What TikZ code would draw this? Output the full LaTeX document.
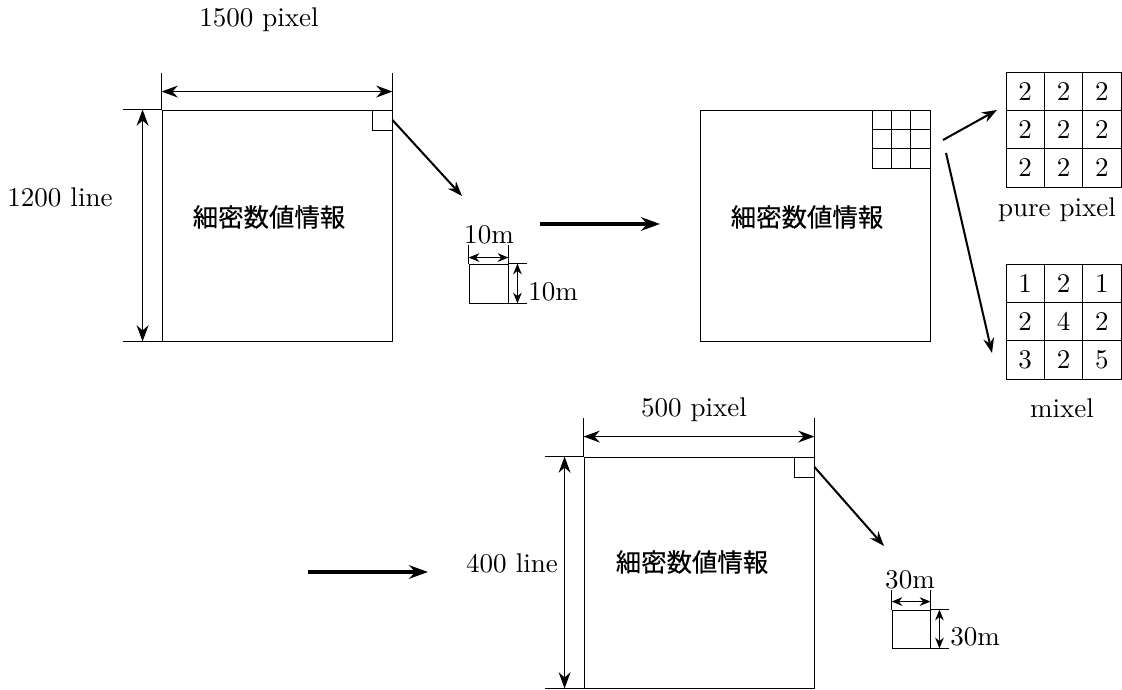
\documentclass[tikz,border=0pt]{standalone}
\usepackage{fontspec}
\newfontfamily\cjkfont{Noto Sans CJK JP}[FakeBold=0.4]
\usetikzlibrary{arrows.meta,calc}
\newcommand{\pxu}{0.37pt}

\begin{document}
\begin{tikzpicture}[
  x=\pxu, y=-\pxu,
  line width=0.32pt,
  mapbox/.style={draw, inner sep=0pt, minimum width=230*\pxu, minimum height=231*\pxu},
  cornerbox/.style={draw, inner sep=0pt, minimum size=20*\pxu},
  subcell/.style={draw, inner sep=0pt, minimum size=19.33*\pxu},
  valcell/.style={draw, inner sep=0pt, minimum size=38.33*\pxu},
  pixbox/.style={draw, inner sep=0pt, minimum size=39*\pxu},
  maptext/.style={font=\cjkfont\fontsize{9.4}{11}\selectfont},
  dimarrow/.style={{Stealth[length=6pt,width=4.4pt]}-{Stealth[length=6pt,width=4.4pt]}, line width=0.45pt},
  smallarrow/.style={{Stealth[length=4pt,width=3.2pt]}-{Stealth[length=4pt,width=3.2pt]}, line width=0.45pt},
  zoomarrow/.style={-{Stealth[length=5.5pt,width=4pt]}, line width=0.75pt},
  steparrow/.style={-{Stealth[length=7pt,width=5pt]}, line width=1.2pt}
]
\useasboundingbox (0,0) rectangle (1122,690);

% fine map (10m)
\node[mapbox] (finemap) at (277,225.5) {};
\node[maptext] (finetext) at (269,217) {細密数値情報};
\node[cornerbox] (finecorner) at (382,120) {};
\draw (finemap.north west) -- ++(0,-37);
\draw (finemap.north east) -- ++(0,-37);
\draw (finemap.north west) -- ++(-39,0);
\draw (finemap.south west) -- ++(-39,0);
\draw[dimarrow] ($(finemap.north west)+(0,-18)$) -- ($(finemap.north east)+(0,-18)$);
\draw[dimarrow] ($(finemap.north west)+(-19,0)$) -- ($(finemap.south west)+(-19,0)$);
\node (finewidth) at (259,20) {1500 pixel};
\node (fineheight) at (60,197) {1200 line};

\node[pixbox] (pix10) at (488.5,283.5) {};
\draw (pix10.north west) -- ++(0,-19);
\draw (pix10.north east) -- ++(0,-19);
\draw (pix10.north east) -- ++(19,0);
\draw (pix10.south east) -- ++(19,0);
\draw[smallarrow] ($(pix10.north west)+(0,-6)$) -- ($(pix10.north east)+(0,-6)$);
\draw[smallarrow] ($(pix10.north east)+(9,0)$) -- ($(pix10.south east)+(9,0)$);
\node (pix10top) at (489,235) {10m};
\node[anchor=west] (pix10side) at (519,292) {10m};

\coordinate (finetip) at (462,196);
\draw[zoomarrow] (finecorner.east) -- (finetip);

\coordinate (stepAfrom) at (540,224);
\coordinate (stepAto) at (660,224);
\draw[steparrow] (stepAfrom) -- (stepAto);

% grid map
\node[mapbox] (gridmap) at (815,225.5) {};
\node[maptext] (gridtext) at (807,217) {細密数値情報};
\foreach \r in {0,1,2}
  \foreach \c in {0,1,2}
    \node[subcell] (sub-\r-\c) at ({881.67+19.33*\c},{119.67+19.33*\r}) {};

\foreach \val [count=\k from 0] in {2,2,2,2,2,2,2,2,2} {
  \pgfmathtruncatemacro{\row}{\k/3}
  \pgfmathtruncatemacro{\col}{mod(\k,3)}
  \node[valcell] (pure-\row-\col) at ({1025.2+38.33*\col},{91.2+38.33*\row}) {\val};
}
\foreach \val [count=\k from 0] in {1,2,1,2,4,2,3,2,5} {
  \pgfmathtruncatemacro{\row}{\k/3}
  \pgfmathtruncatemacro{\col}{mod(\k,3)}
  \node[valcell] (mix-\row-\col) at ({1025.2+38.33*\col},{283.2+38.33*\row}) {\val};
}
\node (purelabel) at (1057,210) {pure pixel};
\node (mixlabel) at (1062,408) {mixel};

\coordinate (purefrom) at (943,140);
\coordinate (puretip) at (997,110);
\coordinate (mixfrom) at (946,153);
\coordinate (mixtip) at (992,353);
\draw[zoomarrow] (purefrom) -- (puretip);
\draw[zoomarrow] (mixfrom) -- (mixtip);

% coarse map (30m)
\coordinate (stepBfrom) at (308,572);
\coordinate (stepBto) at (428,572);
\draw[steparrow] (stepBfrom) -- (stepBto);

\node[mapbox] (coarsemap) at (699,572.5) {};
\node[maptext] (coarsetext) at (692,562) {細密数値情報};
\node[cornerbox] (coarsecorner) at (804,467) {};
\draw (coarsemap.north west) -- ++(0,-39);
\draw (coarsemap.north east) -- ++(0,-39);
\draw (coarsemap.north west) -- ++(-39,0);
\draw (coarsemap.south west) -- ++(-39,0);
\draw[dimarrow] ($(coarsemap.north west)+(0,-20)$) -- ($(coarsemap.north east)+(0,-20)$);
\draw[dimarrow] ($(coarsemap.north west)+(-19,0)$) -- ($(coarsemap.south west)+(-19,0)$);
\node (coarsewidth) at (694,410) {500 pixel};
\node (coarseheight) at (512,563) {400 line};

\node[pixbox, minimum size=38*\pxu] (pix30) at (911,629) {};
\draw (pix30.north west) -- ++(0,-20);
\draw (pix30.north east) -- ++(0,-20);
\draw (pix30.north east) -- ++(19,0);
\draw (pix30.south east) -- ++(19,0);
\draw[smallarrow] ($(pix30.north west)+(0,-8)$) -- ($(pix30.north east)+(0,-8)$);
\draw[smallarrow] ($(pix30.north east)+(9,0)$) -- ($(pix30.south east)+(9,0)$);
\node (pix30top) at (910,580) {30m};
\node[anchor=west] (pix30side) at (941,637) {30m};

\coordinate (coarsetip) at (884,546);
\draw[zoomarrow] (coarsecorner.east) -- (coarsetip);
\end{tikzpicture}
\end{document}
